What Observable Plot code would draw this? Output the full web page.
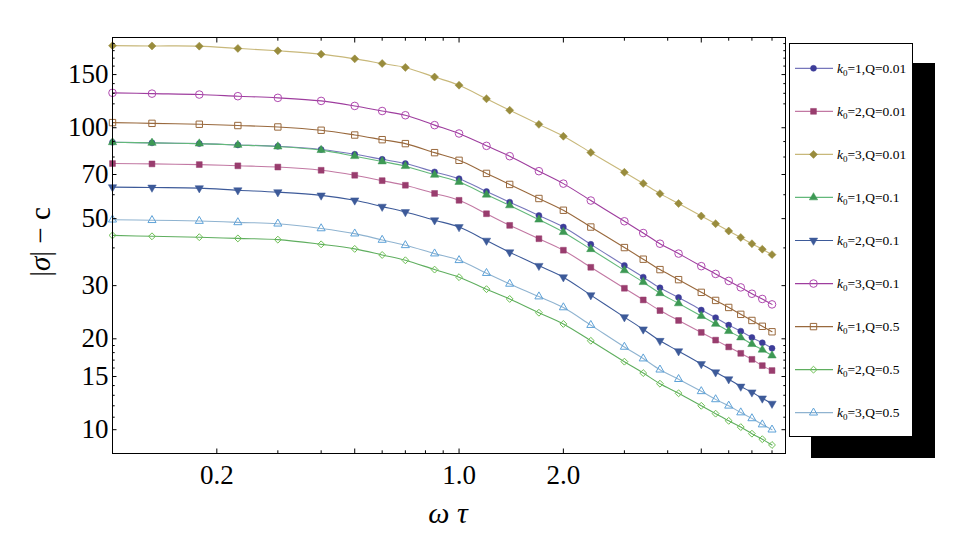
<!DOCTYPE html>
<html><head><meta charset="utf-8">
<script src="https://cdn.jsdelivr.net/npm/d3@7"></script>
<script src="https://cdn.jsdelivr.net/npm/@observablehq/plot@0.6"></script>
<style>
body{margin:0;background:#fff;}
#wrap{position:relative;width:960px;height:550px;overflow:hidden;}
#shadow{position:absolute;left:811px;top:63px;width:124px;height:395px;background:#000;}
#legend{position:absolute;left:789px;top:43px;width:122px;height:392px;background:#fff;border:1px solid #000;}
svg text{font-family:"Liberation Serif","DejaVu Serif",serif;}
</style></head><body><div id="wrap"><div id="plot"></div><div id="shadow"></div><div id="legend"></div></div>
<script>
// x values (omega tau)
const omegaTau = [0.1, 0.13, 0.178, 0.23, 0.3, 0.4, 0.5, 0.6, 0.7, 0.85, 1.0, 1.2, 1.4, 1.7, 2.0, 2.4, 3.0, 3.4, 3.8, 4.3, 5.0, 5.5, 6.0, 6.5, 7.0, 7.5, 8.0];
// |sigma|-c for each case
const k1Q001 = [89.5, 89.1, 88.6, 87.7, 86.8, 84.7, 81.7, 78.6, 76.1, 71.4, 67.8, 61.5, 56.7, 51.2, 46.9, 41.1, 35.0, 32.0, 29.5, 27.4, 24.9, 23.5, 22.2, 21.2, 20.2, 19.4, 18.6];
const k2Q001 = [76.1, 75.9, 75.5, 74.8, 74.1, 72.3, 69.6, 66.8, 64.5, 60.6, 57.5, 51.9, 47.5, 42.9, 39.3, 34.5, 29.4, 26.9, 24.8, 23.0, 21.0, 19.8, 18.8, 17.9, 17.1, 16.3, 15.7];
const k3Q001 = [187, 186.6, 186.3, 183.1, 179.8, 175.3, 169.1, 163.2, 158.4, 147.2, 138.3, 124.7, 114.3, 102.6, 93.7, 82.8, 71.2, 65.4, 60.5, 56.1, 51.0, 48.1, 45.5, 43.3, 41.3, 39.6, 38.0];
const k1Q01 = [89.5, 89.1, 88.6, 87.7, 86.6, 84.3, 80.5, 77.3, 74.6, 69.8, 66.1, 60.0, 55.3, 49.6, 45.1, 39.6, 33.7, 30.8, 28.3, 26.2, 23.8, 22.4, 21.2, 20.2, 19.2, 18.4, 17.6];
const k2Q01 = [63.6, 63.4, 63.1, 62.1, 61.2, 59.7, 57.5, 54.8, 52.6, 49.4, 46.9, 42.3, 38.7, 34.9, 32.0, 27.9, 23.6, 21.5, 19.7, 18.2, 16.5, 15.5, 14.7, 13.9, 13.3, 12.7, 12.2];
const k3Q01 = [130.5, 129.7, 128.8, 127.2, 125.6, 122.7, 118.1, 113.6, 110.0, 102.0, 95.7, 87.1, 80.5, 71.8, 65.3, 57.4, 49.0, 44.8, 41.3, 38.3, 34.8, 32.8, 31.1, 29.6, 28.2, 27.1, 26.0];
const k1Q05 = [104, 103.4, 102.7, 101.7, 100.6, 98.1, 94.6, 91.3, 88.6, 82.7, 78.0, 70.6, 64.9, 58.3, 53.3, 46.9, 40.1, 36.7, 33.9, 31.4, 28.5, 26.8, 25.4, 24.1, 23.0, 22.0, 21.1];
const k2Q05 = [44.0, 43.7, 43.4, 43.0, 42.6, 41.1, 39.7, 37.9, 36.4, 33.9, 32.0, 29.2, 27.1, 24.4, 22.4, 19.7, 16.8, 15.4, 14.2, 13.2, 12.0, 11.3, 10.7, 10.2, 9.7, 9.3, 8.9];
const k3Q05 = [49.6, 49.4, 49.1, 48.6, 48.1, 46.4, 44.6, 42.5, 40.8, 38.3, 36.4, 33.0, 30.4, 27.6, 25.4, 22.2, 18.8, 17.2, 15.8, 14.7, 13.4, 12.6, 12.0, 11.4, 10.9, 10.4, 10.0];

const kValues = ["1", "2", "3", "1", "2", "3", "1", "2", "3"];
const qValues = ["0.01", "0.01", "0.01", "0.1", "0.1", "0.1", "0.5", "0.5", "0.5"];
const seriesValues = [k1Q001, k2Q001, k3Q001, k1Q01, k2Q01, k3Q01, k1Q05, k2Q05, k3Q05];

const xTicks = [0.2, 0.5, 1, 2, 5];
const xMinorTicks = [0.3, 0.4, 0.6, 0.7, 0.8, 0.9, 3, 4, 6, 7, 8];
const yTicks = [10, 15, 20, 30, 50, 70, 100, 150];
const yMinorTicks = [11, 12, 13, 14, 16, 17, 18, 19, 40, 60, 80, 90, 120, 130, 140, 160, 170, 180, 190];

const triangleDown = {
  draw(context, size) {
    const y = -Math.sqrt(size / (Math.sqrt(3) * 3));
    context.moveTo(0, -y * 2);
    context.lineTo(-Math.sqrt(3) * y, y);
    context.lineTo(Math.sqrt(3) * y, y);
    context.closePath();
  }
};

const styles = [
  {line: "#7676bb", color: "#3d3d99", symbol: "circle", filled: true, r: 3},
  {line: "#c278a3", color: "#993d6e", symbol: "square", filled: true, r: 3.3},
  {line: "#c8b87a", color: "#998c3d", symbol: "diamond2", filled: true, r: 3.6},
  {line: "#62b87a", color: "#3d9954", symbol: "triangle", filled: true, r: 3.1},
  {line: "#3d5a99", color: "#3d5a99", symbol: triangleDown, filled: true, r: 3.1},
  {line: "#9e3d9e", color: "#b04ab0", symbol: "circle", filled: false, r: 3.8},
  {line: "#99693d", color: "#99693d", symbol: "square", filled: false, r: 3.6},
  {line: "#5fae5f", color: "#6cbf52", symbol: "diamond2", filled: false, r: 3.1},
  {line: "#8fb3d0", color: "#5ea2d8", symbol: "triangle", filled: false, r: 3}
];

const series = seriesValues.map((vals, s) => omegaTau.map((x, i) => ({x, y: vals[i], s})));

const lineMarks = series.map((rows, s) => Plot.line(rows, {x: "x", y: "y", stroke: styles[s].line, strokeWidth: 1.1, curve: "catmull-rom"}));
const dotMarks = series.map((rows, s) => {
  const st = styles[s];
  return Plot.dot(rows, {x: "x", y: "y", symbol: st.symbol, r: st.r,
    fill: st.filled ? st.color : "none", stroke: st.color, strokeWidth: st.filled ? 0.5 : 1});
});

const fontFamily = "Liberation Serif, DejaVu Serif, serif";
const chart = Plot.plot({
  width: 960, height: 550,
  marginLeft: 112, marginRight: 175, marginTop: 37, marginBottom: 97,
  style: {fontFamily, background: "white", color: "black"},
  x: {type: "log", domain: [0.1, 8.75], label: null},
  y: {type: "log", domain: [8.34, 199], label: null},
  marks: [
    ...lineMarks,
    ...dotMarks,
    Plot.frame({stroke: "black", strokeWidth: 1}),
    Plot.axisX(xTicks, {anchor: "bottom", tickSize: 0, tickPadding: 11, tickFormat: d => d.toFixed(1), fontSize: 27, label: null}),
    Plot.axisY(yTicks, {anchor: "left", tickSize: 0, tickPadding: 4, tickFormat: d => String(d), fontSize: 27, label: null}),
    Plot.axisX(xTicks, {anchor: "bottom", tickSize: -4.5, tickFormat: () => "", label: null}),
    Plot.axisX(xTicks, {anchor: "top", tickSize: -4.5, tickFormat: () => "", label: null}),
    Plot.axisX(xMinorTicks, {anchor: "bottom", tickSize: -2.7, tickFormat: () => "", label: null}),
    Plot.axisX(xMinorTicks, {anchor: "top", tickSize: -2.7, tickFormat: () => "", label: null}),
    Plot.axisY(yTicks, {anchor: "left", tickSize: -4.5, tickFormat: () => "", label: null}),
    Plot.axisY(yTicks, {anchor: "right", tickSize: -4.5, tickFormat: () => "", label: null}),
    Plot.axisY(yMinorTicks, {anchor: "left", tickSize: -2.7, tickFormat: () => "", label: null}),
    Plot.axisY(yMinorTicks, {anchor: "right", tickSize: -2.7, tickFormat: () => "", label: null})
  ]
});
document.getElementById("plot").appendChild(chart);

// axis titles
const svg = d3.select(chart);
const xt = svg.append("text").attr("x", 448).attr("y", 523).attr("text-anchor", "middle")
  .attr("font-size", 30).attr("fill", "black");
xt.append("tspan").attr("font-style", "italic").text("ω");
xt.append("tspan").text(" ");
xt.append("tspan").attr("font-style", "italic").text("τ");
const yt = svg.append("text").attr("transform", "translate(50,242) rotate(-90)").attr("text-anchor", "middle")
  .attr("font-size", 29).attr("fill", "black");
yt.append("tspan").text("|");
yt.append("tspan").attr("font-style", "italic").text("σ");
yt.append("tspan").text("| − c");

// legend
const lg = d3.select("#legend").append("svg").attr("width", 122).attr("height", 392);
styles.forEach((st, i) => {
  const cy = 24.3 + 43.05 * i;
  const g = lg.append("g");
  g.append("line").attr("x1", 5).attr("x2", 43).attr("y1", cy).attr("y2", cy).attr("stroke", st.line).attr("stroke-width", 1.2);
  const sym = typeof st.symbol === "string" ? ({circle: d3.symbolCircle, square: d3.symbolSquare, diamond2: d3.symbolDiamond2, triangle: d3.symbolTriangle})[st.symbol] : st.symbol;
  g.append("path").attr("d", d3.symbol(sym, Math.PI * st.r * st.r)())
    .attr("transform", `translate(23.5,${cy})`)
    .attr("fill", st.filled ? st.color : "none").attr("stroke", st.color).attr("stroke-width", st.filled ? 0.5 : 1);
  const t = g.append("text").attr("x", 47).attr("y", cy + 4.5).attr("font-size", 13.5).attr("fill", "black");
  t.append("tspan").attr("font-style", "italic").text("k");
  t.append("tspan").attr("font-size", 9).attr("dy", 3).text("0");
  t.append("tspan").attr("dy", -3).text("=" + kValues[i] + ",Q=" + qValues[i]);
});
</script>
</body></html>
